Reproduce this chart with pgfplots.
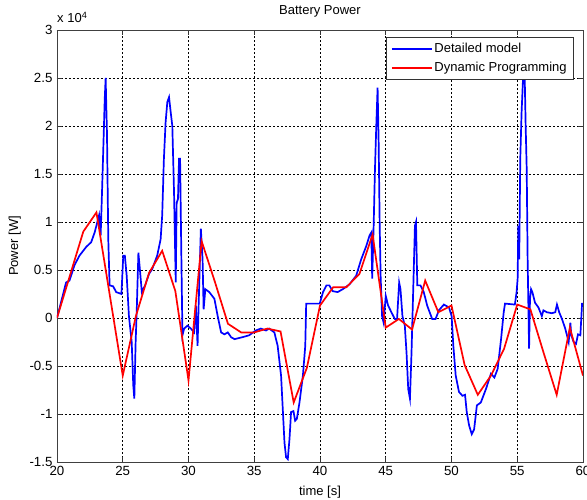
\documentclass[border=0pt]{standalone}
\usepackage{fontspec}
\setmainfont{Liberation Sans}
\usepackage{pgfplots}
\pgfplotsset{compat=1.18}
\definecolor{mblue}{RGB}{0,0,255}
\definecolor{mred}{RGB}{255,0,0}
\begin{document}
\fontsize{13}{15}\selectfont
\begin{tikzpicture}
\begin{axis}[
  at={(0,0)}, anchor=south west,
  scale only axis, width=526pt, height=432pt,
  xmin=20, xmax=60, ymin=-1.5, ymax=3,
  xtick={20,25,30,35,40,45,50,55,60},
  ytick={-1.5,-1,-0.5,0,0.5,1,1.5,2,2.5,3},
  yticklabels={-1.5,-1,-0.5,0,0.5,1,1.5,2,2.5,3},
  grid=major,
  major grid style={black, line width=0.5pt, dash pattern=on 2pt off 2pt},
  tick align=inside, major tick length=5pt,
  axis line style={black!75, line width=0.7pt},
  every tick/.style={black!80, line width=0.6pt},
  /pgf/number format/assume math mode=true,
  tick label style={font=\fontsize{13.3}{15}\selectfont},
  title={Battery Power},
  title style={at={(axis description cs:0.5,1.0231)}, anchor=base, inner sep=0pt},
  xlabel={time [s]},
  xlabel style={at={(axis description cs:0.5,-0.0764)}, anchor=base, inner sep=0pt},
  ylabel={Power [W]},
  ylabel style={at={(axis description cs:-0.0741,0.5)}, anchor=base, inner sep=0pt},
  legend cell align=left,
  legend style={at={(axis description cs:1,1)}, anchor=north east, xshift=-9pt, yshift=-7pt,
    draw=black!80, line width=0.6pt, fill=white, inner xsep=5pt, inner ysep=4pt,
    row sep=3.5pt, nodes={inner sep=2pt}},
  legend image code/.code={\draw[#1, line width=1.3pt] (0pt,0pt) -- (40pt,0pt);},
]
\addplot[mblue, line width=1.7pt] coordinates {
(20,0) (20.3,0.16) (20.69,0.37) (20.95,0.39) (21.33,0.55) (21.71,0.65) (22.22,0.74)
(22.6,0.79) (22.86,0.89) (23.07,1.0) (23.2,1.07) (23.32,0.86) (23.43,1.34) (23.55,1.9)
(23.63,2.28) (23.7,2.5) (23.75,2.2) (23.8,1.93) (23.9,0.82) (24.0,0.34) (24.27,0.33)
(24.5,0.27) (24.9,0.25) (25.04,0.65) (25.16,0.65) (25.3,0.44) (25.47,0.02) (25.68,-0.25)
(25.8,-0.70) (25.88,-0.84) (25.98,-0.25) (26.06,0.06) (26.19,0.68) (26.32,0.48) (26.45,0.27)
(26.7,0.34) (27.0,0.46) (27.24,0.51) (27.62,0.65) (27.88,0.82) (28.0,1.07) (28.13,1.66)
(28.26,2.04) (28.39,2.25) (28.52,2.30) (28.65,2.14) (28.77,2.0) (28.9,1.31) (29.03,0.37)
(29.1,1.2) (29.2,1.24) (29.28,1.66) (29.36,1.66) (29.46,0.61) (29.54,-0.18) (29.67,-0.11)
(29.92,-0.08) (30.18,-0.11) (30.43,-0.15) (30.56,0.13) (30.69,-0.29) (30.77,0.13) (30.94,0.93)
(31.07,0.61) (31.15,0.09) (31.28,0.30) (31.58,0.27) (31.97,0.2) (32.22,0.02) (32.48,-0.15)
(32.73,-0.17) (32.99,-0.15) (33.24,-0.2) (33.5,-0.22) (34.1,-0.2) (34.61,-0.18) (35.12,-0.13)
(35.5,-0.11) (35.89,-0.13) (36.14,-0.11) (36.53,-0.15) (36.78,-0.29) (37.04,-0.6) (37.17,-0.95)
(37.3,-1.3) (37.42,-1.45) (37.55,-1.47) (37.68,-1.26) (37.8,-0.98) (37.98,-0.97) (38.11,-1.07)
(38.24,-1.05) (38.44,-0.88) (38.7,-0.6) (38.88,-0.29) (38.95,0.15) (39.46,0.15) (39.98,0.15)
(40.23,0.27) (40.49,0.34) (40.71,0.34) (40.96,0.28) (41.34,0.27) (41.73,0.30) (42.24,0.35)
(42.75,0.44) (43.13,0.61) (43.52,0.75) (43.77,0.86) (43.9,0.89) (43.97,0.41) (44.08,0.96)
(44.18,1.55) (44.28,2.0) (44.38,2.4) (44.46,1.83) (44.54,0.96) (44.61,0.44) (44.72,0.02)
(44.84,-0.05) (45.0,0.23) (45.18,0.13) (45.43,0.06) (45.69,-0.01) (45.86,-0.01) (46.02,0.37)
(46.12,0.30) (46.27,0.02) (46.45,-0.08) (46.58,-0.36) (46.71,-0.74) (46.84,-0.84) (46.96,-0.36)
(47.09,0.30) (47.22,0.96) (47.3,1.0) (47.4,0.34) (47.64,0.34) (47.89,0.27) (48.15,0.13)
(48.53,-0.01) (48.79,-0.01) (49.04,0.08) (49.42,0.14) (49.81,0.11) (50.01,0.02) (50.14,-0.29)
(50.32,-0.6) (50.57,-0.77) (50.83,-0.81) (51.03,-0.8) (51.16,-0.98) (51.34,-1.12) (51.54,-1.21)
(51.72,-1.16) (51.93,-0.91) (52.23,-0.88) (52.62,-0.74) (53.0,-0.58) (53.26,-0.62) (53.51,-0.53)
(53.77,-0.22) (53.97,0.06) (54.07,0.15) (54.82,0.14) (54.95,0.27) (55.03,0.41) (55.08,0.96)
(55.15,0.61) (55.23,1.66) (55.33,2.14) (55.46,2.56) (55.54,2.7) (55.64,2.0) (55.72,1.55)
(55.79,0.61) (55.9,-0.32) (55.97,0.2) (56.05,0.3) (56.15,0.27) (56.35,0.16) (56.61,0.11)
(56.87,0.02) (56.99,0.08) (57.25,0.06) (57.63,0.05) (57.89,0.06) (58.02,0.14) (58.19,0.06)
(58.4,-0.01) (58.65,-0.11) (58.91,-0.25) (59.04,-0.05) (59.11,-0.18) (59.29,-0.25) (59.47,-0.27)
(59.62,-0.17) (59.8,-0.18) (59.93,0.15) (60,0.15)
};
\addlegendentry{Detailed model}
\addplot[mred, line width=1.7pt] coordinates {
(20,0) (21,0.45) (22,0.9) (23,1.1) (25,-0.6) (26,0.02) (27,0.47) (28,0.70) (29,0.28)
(30,-0.65) (31,0.80) (32,0.38) (33,-0.06) (34,-0.15) (35,-0.15) (36,-0.11) (37,-0.14)
(38,-0.88) (39,-0.52) (40,0.13) (41,0.32) (42,0.32) (43,0.46) (44,0.87) (45,-0.1)
(46,-0.01) (47,-0.12) (48,0.39) (49,0.06) (50,0.13) (51,-0.49) (52,-0.8) (53,-0.6)
(54,-0.32) (55,0.14) (56,0.09) (57,-0.36) (58,-0.8) (59,-0.1) (60,-0.6)
};
\addlegendentry{Dynamic Programming}
\end{axis}
\node[anchor=base west, inner sep=0pt] at (0pt,439pt) {x 10\textsuperscript{4}};
\pgfresetboundingbox
\path[use as bounding box] (-57pt,-37pt) rectangle (530pt,462pt);
\end{tikzpicture}
\end{document}
